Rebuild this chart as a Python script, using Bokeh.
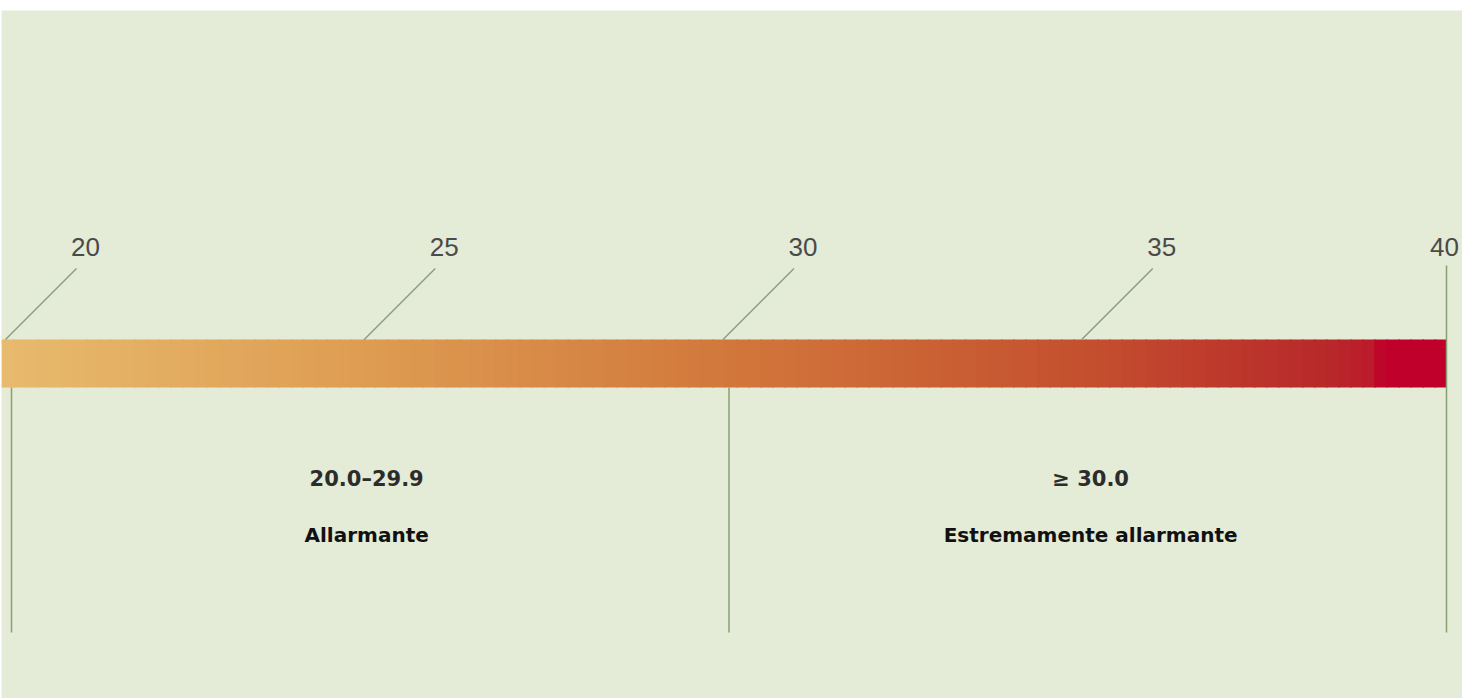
from bokeh.plotting import figure
from bokeh.models import Range1d
from bokeh.core.properties import value
from bokeh.embed import file_html
from bokeh.resources import INLINE
import numpy as np

# --- data ---
tick_values = [20, 25, 30, 35, 40]
tick_labels = ["20", "25", "30", "35", "40"]
range_labels = ["20.0\u201329.9", "\u2265 30.0"]
category_labels = ["Allarmante", "Estremamente allarmante"]
category_centers = [24.95, 35.04]
divider_values = [20, 30, 40]
gradient_stops = [19.8, 25, 30, 35, 38.4, 38.95, 39.12, 40]
gradient_colors = ["#e8bb6e", "#de9c52", "#d2783c", "#c5502f", "#b8282a", "#bc1a2a", "#c0002a", "#c0002a"]

# --- layout ---
W, H = 1462, 698
PX = 71.75  # pixels per unit
x0 = 20 - 10 / PX
x1 = x0 + (W - 1) / PX

p = figure(width=W, height=H, output_backend="svg", toolbar_location=None,
           x_range=Range1d(x0, x1), y_range=Range1d(698, 10),
           x_axis_location=None, y_axis_location=None,
           min_border_left=1, min_border_right=0, min_border_bottom=0, min_border_top=10,
           background_fill_color="#e4ebd6", border_fill_color="white")
p.grid.visible = False
p.outline_line_color = None

# gradient bar
def hex2rgb(h):
    return np.array([int(h[i:i + 2], 16) for i in (1, 3, 5)], dtype=float)

rgb = np.array([hex2rgb(c) for c in gradient_colors])
n = 120
edges = np.linspace(x0, 40, n + 1)
mids = (edges[:-1] + edges[1:]) / 2
cols = []
for m in mids:
    r = np.interp(m, gradient_stops, rgb[:, 0])
    g = np.interp(m, gradient_stops, rgb[:, 1])
    b = np.interp(m, gradient_stops, rgb[:, 2])
    cols.append("#%02x%02x%02x" % (int(r), int(g), int(b)))
rights = np.minimum(edges[1:] + 1.5 / PX, 40)
p.quad(left=edges[:-1], right=rights, top=339, bottom=387,
       fill_color=cols, line_color=None)

# diagonal leader lines for ticks (except last)
diag = tick_values[:-1]
p.segment(x0=[v - 6 / PX for v in diag], y0=[339] * len(diag),
          x1=[v + 65 / PX for v in diag], y1=[268] * len(diag),
          line_color="#8c9c84", line_width=1.5)

# vertical dividers
p.segment(x0=divider_values, y0=[387, 387, 265], x1=divider_values, y1=[632] * 3,
          line_color="#86a070", line_width=1.5)

# tick labels
lab_x = [v + 74 / PX for v in tick_values[:-1]] + [tick_values[-1] - 2 / PX]
p.text(x=lab_x, y=[246] * len(lab_x), text=tick_labels,
       text_font=value("Liberation Sans"), text_font_size="26px",
       text_color="#4a4a4a", text_align="center", text_baseline="middle")

# range + category labels
p.text(x=category_centers, y=[478, 478], text=range_labels,
       text_font=value("DejaVu Sans"), text_font_style="bold", text_font_size="21px",
       text_color="#2c2c2c", text_align="center", text_baseline="middle")
p.text(x=category_centers, y=[534, 534], text=category_labels,
       text_font=value("DejaVu Sans"), text_font_style="bold", text_font_size="20px",
       text_color="#111111", text_align="center", text_baseline="middle")

open("out.html", "w").write(file_html(p, INLINE))
